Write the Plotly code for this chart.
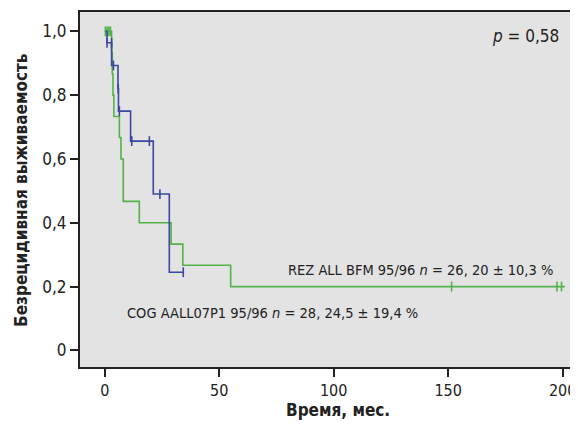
import plotly.graph_objects as go

# Kaplan-Meier step data
rez_time = [0, 3.0, 3.3, 3.6, 4.0, 6.4, 7.1, 8.1, 15.1, 29.0, 34.1, 55.0, 201.0]
rez_surv = [1.0, 0.933, 0.867, 0.8, 0.733, 0.667, 0.6, 0.467, 0.4, 0.333, 0.267, 0.2, 0.2]
rez_cens_time = [0.3, 1.0, 1.8, 2.5, 151.5, 197.5, 199.5]
rez_cens_surv = [1.0, 1.0, 1.0, 1.0, 0.2, 0.2, 0.2]

cog_time = [0.4, 1.0, 3.0, 5.8, 6.0, 11.3, 21.2, 28.2, 34.3]
cog_surv = [1.0, 0.964, 0.893, 0.82, 0.75, 0.656, 0.49, 0.245, 0.245]
cog_cens_time = [1.0, 3.0, 3.8, 5.9, 6.4, 11.8, 19.5, 24.1, 34.3]
cog_cens_surv = [0.964, 0.964, 0.893, 0.82, 0.75, 0.656, 0.656, 0.49, 0.245]

x_ticks = [0, 50, 100, 150, 200]
y_ticks = [0, 0.2, 0.4, 0.6, 0.8, 1.0]
y_tick_labels = ["0", "0,2", "0,4", "0,6", "0,8", "1,0"]

GREEN = "#52b348"
BLUE = "#3b47a0"
FONT = "DejaVu Sans Condensed, Liberation Sans Narrow, Liberation Sans, Arial"

fig = go.Figure()
fig.add_trace(go.Scatter(x=rez_time, y=rez_surv, mode="lines", line=dict(color=GREEN, width=1.6, shape="hv"), showlegend=False))
fig.add_trace(go.Scatter(x=rez_cens_time, y=rez_cens_surv, mode="markers",
                         marker=dict(symbol="line-ns-open", size=7, color=GREEN, line=dict(color=GREEN, width=1.6)), showlegend=False))
fig.add_trace(go.Scatter(x=cog_time, y=cog_surv, mode="lines", line=dict(color=BLUE, width=1.6, shape="hv"), showlegend=False))
fig.add_trace(go.Scatter(x=cog_cens_time, y=cog_cens_surv, mode="markers",
                         marker=dict(symbol="line-ns-open", size=7, color=BLUE, line=dict(color=BLUE, width=1.6)), showlegend=False))

fig.add_annotation(x=199.3, y=0.984, xref="x", yref="y", xanchor="right", yanchor="middle",
                   text="<i>p</i> = 0,58", showarrow=False, font=dict(size=17, color="#222", family=FONT))
fig.add_annotation(x=196.6, y=0.251, xref="x", yref="y", xanchor="right", yanchor="middle",
                   text="REZ ALL BFM 95/96 <i>n</i> = 26, 20 ± 10,3 %", showarrow=False,
                   font=dict(size=14.5, color="#222", family=FONT))
fig.add_annotation(x=9.0, y=0.118, xref="x", yref="y", xanchor="left", yanchor="middle",
                   text="COG AALL07P1 95/96 <i>n</i> = 28, 24,5 ± 19,4 %", showarrow=False,
                   font=dict(size=14.5, color="#222", family=FONT))
fig.add_annotation(x=-0.1185, y=0.4986, xref="paper", yref="paper", xanchor="center", yanchor="middle",
                   text="<b>Безрецидивная выживаемость</b>", textangle=-90, showarrow=False,
                   font=dict(size=17, color="#222", family=FONT))
fig.add_annotation(x=0.518, y=-0.121, xref="paper", yref="paper", xanchor="center", yanchor="middle",
                   text="<b>Время, мес.</b>", showarrow=False,
                   font=dict(size=17, color="#222", family=FONT))

# page body has an 8px default margin: figure is sized/offset so the plot lands where the reference has it
fig.update_layout(
    width=570, height=412,
    margin=dict(l=72, r=0, t=4, b=53),
    paper_bgcolor="white", plot_bgcolor="#e3e3e3",
    font=dict(family=FONT, size=17, color="#222"),
    xaxis=dict(range=[-10.8, 206.7], tickvals=x_ticks, ticks="outside", ticklen=8, tickwidth=1.5,
               tickcolor="#222", showline=True, linecolor="#222", linewidth=2, mirror=True,
               showgrid=False, zeroline=False, tickfont=dict(size=16), automargin=False),
    yaxis=dict(range=[-0.052, 1.0605], tickvals=y_ticks, ticktext=y_tick_labels, ticks="outside",
               ticklen=8, tickwidth=1.5, tickcolor="#222", showline=True, linecolor="#222", linewidth=2,
               showgrid=False, zeroline=False, tickfont=dict(size=17), automargin=False),
)
fig.write_html("out.html")
